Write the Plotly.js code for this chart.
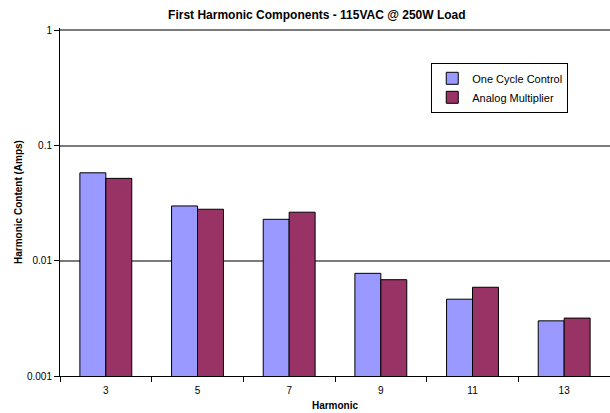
<!DOCTYPE html>
<html>
<head>
<meta charset="utf-8">
<script src="https://cdn.plot.ly/plotly-3.0.1.min.js"></script>
<style>html,body{margin:0;padding:0;background:#fff;}#chart{width:610px;height:413px;}</style>
</head>
<body>
<div id="chart"></div>
<script>
const harmonics = ['3', '5', '7', '9', '11', '13'];
const oneCycleControl = [0.058, 0.0299, 0.0229, 0.00778, 0.00464, 0.00301];
const analogMultiplier = [0.0519, 0.028, 0.0264, 0.00685, 0.00589, 0.00318];
const yTickVals = [0.001, 0.01, 0.1, 1];
const yTickText = ['0.001', '0.01', '0.1', '1'];

const font = {family: 'Arial, Liberation Sans, sans-serif', color: '#000'};

const traces = [
  {type: 'bar', name: 'One Cycle Control', x: harmonics, y: oneCycleControl,
   marker: {color: '#9999FF', line: {color: '#000', width: 1}}},
  {type: 'bar', name: 'Analog Multiplier', x: harmonics, y: analogMultiplier,
   marker: {color: '#993366', line: {color: '#000', width: 1}}}
];

const layout = {
  width: 610, height: 413,
  margin: {l: 60, r: 0, t: 28, b: 37, pad: 0},
  paper_bgcolor: '#fff', plot_bgcolor: '#fff',
  font: Object.assign({size: 10}, font),
  title: {text: '<b>First Harmonic Components - 115VAC @ 250W Load</b>',
          font: Object.assign({size: 12}, font), x: 0.467, xref: 'paper', xanchor: 'center',
          y: 0.964, yref: 'container', yanchor: 'middle'},
  barmode: 'group', bargap: 0.434, bargroupgap: 0,
  showlegend: true,
  legend: {x: 0.675, xanchor: 'left', y: 0.9, yanchor: 'top',
           bordercolor: '#000', borderwidth: 1, bgcolor: '#fff',
           font: Object.assign({size: 11}, font), traceorder: 'normal'},
  xaxis: {type: 'category', showline: true, linecolor: '#000', linewidth: 1,
          ticks: 'outside', tickson: 'boundaries', ticklen: 5, tickcolor: '#000',
          ticklabelstandoff: 5,
          showgrid: false, zeroline: false, tickfont: Object.assign({size: 10}, font),
          title: {text: '<b>Harmonic</b>', font: Object.assign({size: 10}, font), standoff: 6}},
  yaxis: {type: 'log', range: [-3, 0.02], showline: true, linecolor: '#000', linewidth: 1,
          ticks: 'outside', ticklen: 5, tickcolor: '#000',
          tickvals: yTickVals, ticktext: yTickText,
          showgrid: true, gridcolor: '#7a7a7a', gridwidth: 2, zeroline: false,
          tickfont: Object.assign({size: 10}, font),
          title: {text: '<b>Harmonic Content (Amps)</b>', font: Object.assign({size: 10}, font), standoff: 2}}
};

Plotly.newPlot('chart', traces, layout, {displayModeBar: false, staticPlot: true});
</script>
</body>
</html>
